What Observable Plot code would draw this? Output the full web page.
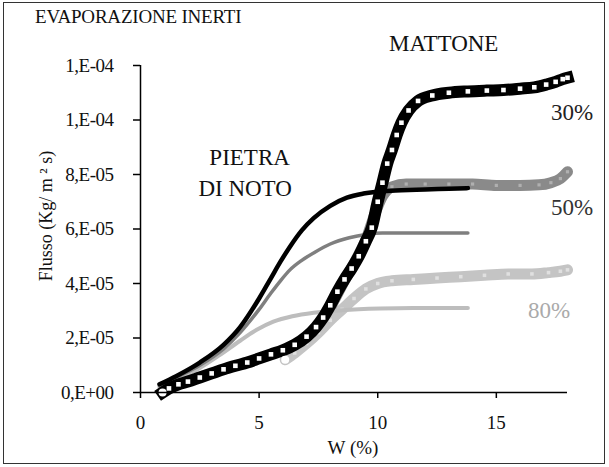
<!DOCTYPE html>
<html><head><meta charset="utf-8">
<script src="https://cdn.jsdelivr.net/npm/d3@7"></script>
<script src="https://cdn.jsdelivr.net/npm/@observablehq/plot@0.6"></script>
<style>
body{margin:0;background:#fff;}
#wrap{position:relative;width:609px;height:467px;overflow:hidden;font-family:"Liberation Serif","Times New Roman",serif;color:#111;}
#wrap svg{position:absolute;left:0;top:0;}
#frame{position:absolute;left:3px;top:2px;width:602px;height:462px;border:1.5px solid #333;box-sizing:border-box;pointer-events:none}
#title{position:absolute;left:35px;top:6px;font-size:19px;letter-spacing:-0.2px;white-space:nowrap;}
#wrap svg g[aria-label="y-axis tick label"] text{letter-spacing:-0.5px;}
</style></head><body>
<div id="wrap"><div id="title">EVAPORAZIONE INERTI</div><div id="frame"></div></div>
<script>
// Values in units of 1e-5 kg/(m² s)
const pietra30_x = [0.8,1.5,2.5,3.5,4.2,5.0,5.5,5.9,6.3,6.8,7.3,8.0,8.7,9.4,10.1,11,12,13,13.8];
const pietra30_y = [0.3,0.6,1.1,1.75,2.4,3.45,4.2,4.8,5.35,5.95,6.4,6.85,7.15,7.3,7.38,7.42,7.45,7.48,7.5];
const pietra50_x = [0.8,1.5,2.5,3.5,4.2,5.0,5.5,5.9,6.3,6.8,7.35,8.0,8.8,9.5,10.2,11,12,13,13.8];
const pietra50_y = [0.25,0.55,1.0,1.6,2.2,3.05,3.65,4.1,4.5,4.85,5.15,5.45,5.68,5.8,5.85,5.85,5.85,5.85,5.85];
const pietra80_x = [0.8,1.5,2.5,3.3,4.2,4.9,5.6,6.4,7.3,8.5,10.1,11.5,12.5,13.8];
const pietra80_y = [0.2,0.45,0.9,1.35,1.9,2.3,2.6,2.8,2.93,3.02,3.08,3.1,3.1,3.1];
const mattone30_x = [0.93,1.2,1.6,2.0,2.5,3.0,3.5,4.0,4.5,5.0,5.5,6.0,6.5,7.0,7.4,7.7,8.0,8.3,8.6,8.9,9.2,9.5,9.75,10.0,10.2,10.4,10.6,10.8,11.0,11.3,11.7,12.3,13.0,13.8,14.6,15.3,16.0,16.6,17.1,17.5,17.8,18.0];
const mattone30_y = [0.0,0.15,0.3,0.4,0.55,0.7,0.85,0.98,1.1,1.25,1.4,1.55,1.75,2.05,2.4,2.75,3.2,3.7,4.15,4.55,5.0,5.55,6.05,7.0,7.7,8.4,8.9,9.45,9.9,10.35,10.7,10.9,11.0,11.05,11.08,11.1,11.15,11.2,11.3,11.4,11.5,11.55];
const mattone50_x = [8.0,8.6,9.1,9.5,9.9,10.2,10.6,11.2,12,13,14,15,16,16.8,17.3,17.7,18];
const mattone50_y = [3.1,4.1,4.9,5.6,6.6,7.2,7.55,7.65,7.65,7.65,7.65,7.6,7.6,7.62,7.7,7.85,8.1];
const mattone80_x = [6.1,6.5,7.0,7.5,8.0,8.5,9.0,9.5,10.0,10.6,11.5,12.5,13.5,14.5,15.5,16.5,17.2,17.7,18];
const mattone80_y = [1.2,1.45,1.8,2.2,2.65,3.05,3.45,3.8,4.0,4.1,4.15,4.2,4.25,4.3,4.35,4.35,4.4,4.45,4.5];

const yTicks = [0,2e-5,4e-5,6e-5,8e-5,1e-4,1.2e-4];
const yTickLabels = ["0,E+00","2,E-05","4,E-05","6,E-05","8,E-05","1,E-04","1,E-04"];
const xTicks = [0,5,10,15];

const annotations = [
  {text:"MATTONE", x:12.78, y:12.81, color:"#111"},
  {text:"PIETRA", x:4.6, y:8.62, color:"#111"},
  {text:"DI NOTO", x:4.41, y:7.49, color:"#111"},
  {text:"30%", x:18.19, y:10.28, color:"#222"},
  {text:"50%", x:18.19, y:6.79, color:"#333"},
  {text:"80%", x:17.22, y:3.0, color:"#aaa"}
];

const rows = (xs, ys) => xs.map((x, i) => ({x, y: ys[i] * 1e-5}));
const p30 = rows(pietra30_x, pietra30_y);
const p50 = rows(pietra50_x, pietra50_y);
const p80 = rows(pietra80_x, pietra80_y);
const m30 = rows(mattone30_x, mattone30_y);
const m50 = rows(mattone50_x, mattone50_y);
const m80 = rows(mattone80_x, mattone80_y);
const ann = annotations.map(a => ({...a, y: a.y * 1e-5}));

const font = '"Liberation Serif","Times New Roman",serif';
const curve = "monotone-x";

const plot = Plot.plot({
  width: 609, height: 467,
  marginLeft: 140, marginRight: 42, marginTop: 65, marginBottom: 75,
  style: {fontFamily: font, fontSize: "19px", color: "#111", background: "transparent"},
  x: {domain: [0, 18]},
  y: {domain: [0, 1.2e-4]},
  marks: [
    Plot.line(m80, {x: "x", y: "y", stroke: "#c4c4c4", strokeWidth: 11, curve, strokeLinecap: "round"}),
    Plot.dot(m80, {x: "x", y: "y", symbol: "square", r: 2, fill: "#e0e0e0"}),
    Plot.line(m50, {x: "x", y: "y", stroke: "#8a8a8a", strokeWidth: 11, curve, strokeLinecap: "round"}),
    Plot.dot(m50, {x: "x", y: "y", symbol: "square", r: 1.8, fill: "#b0b0b0"}),
    Plot.line(p80, {x: "x", y: "y", stroke: "#bdbdbd", strokeWidth: 4, curve}),
    Plot.line(p50, {x: "x", y: "y", stroke: "#7f7f7f", strokeWidth: 3.5, curve}),
    Plot.line(p30, {x: "x", y: "y", stroke: "#000", strokeWidth: 4.5, curve}),
    Plot.line(m30, {x: "x", y: "y", stroke: "#000", strokeWidth: 12, curve, strokeLinecap: "square"}),
    Plot.dot(m30, {x: "x", y: "y", symbol: "square", r: 2.6, fill: "#fff"}),
    Plot.dot([m30[0], m80[0]], {x: "x", y: "y", r: 4, fill: "#fff"}),
    Plot.ruleX([0], {stroke: "#000", strokeWidth: 1.5}),
    Plot.ruleY([0], {stroke: "#000", strokeWidth: 1.5}),
    Plot.axisY({ticks: yTicks, tickFormat: (d, i) => yTickLabels[i], tickSize: 7, tickPadding: 20, label: null, fontSize: 19, stroke: "#000", strokeWidth: 1.5}),
    Plot.axisX({ticks: xTicks, tickSize: 6, tickPadding: 17, label: null, fontSize: 19, stroke: "#000", strokeWidth: 1.5}),
    Plot.text(["Flusso (Kg/ m ² s)"], {frameAnchor: "left", dx: -94, dy: -13, rotate: -90, textAnchor: "middle", lineAnchor: "middle", fontSize: 18, fill: "#111"}),
    Plot.text(["W (%)"], {frameAnchor: "bottom", dx: -1, dy: 55, lineAnchor: "middle", fontSize: 19, fill: "#111"}),
    Plot.text(ann, {x: "x", y: "y", text: "text", fill: "color", fontSize: 23, clip: false})
  ]
});
document.getElementById("wrap").insertBefore(plot, document.getElementById("frame"));
</script>
</body></html>
